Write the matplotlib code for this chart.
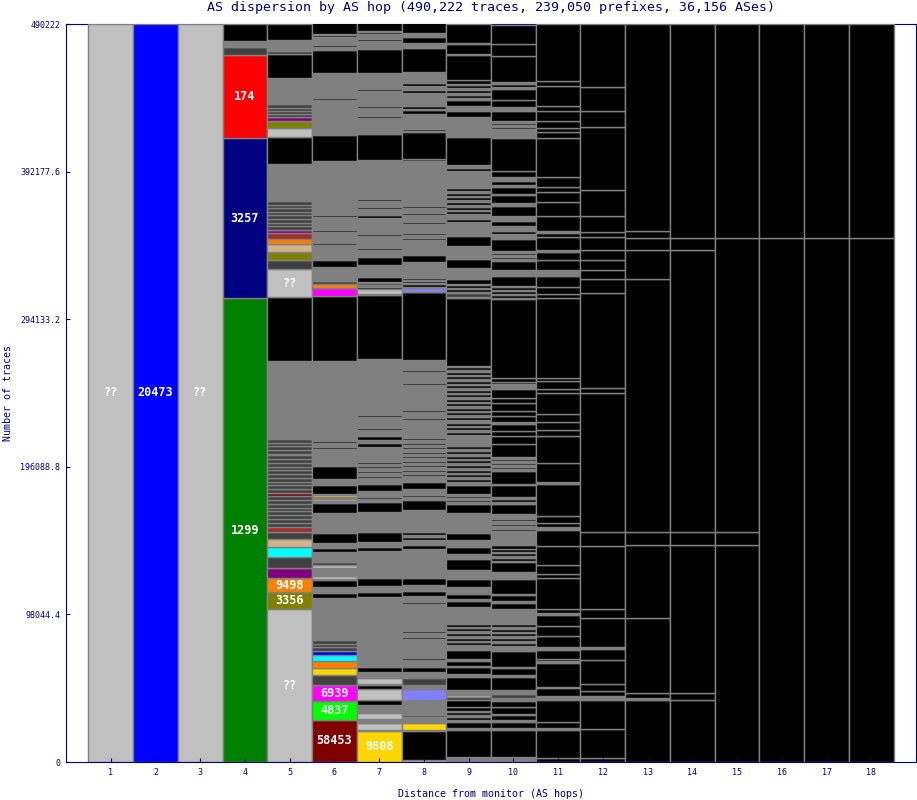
"""
AS dispersion by AS hop - stacked segment chart
"""

import matplotlib
matplotlib.use('Agg')
import matplotlib.pyplot as plt
import numpy as np

TOTAL_TRACES = 490222
title = 'AS dispersion by AS hop (490,222 traces, 239,050 prefixes, 36,156 ASes)'
x_label = 'Distance from monitor (AS hops)'
y_label = 'Number of traces'
NAVY = '#000080'

# colour codes used in the segment lists
palette = {
    'K': '#000000', 'G': '#808080', 'D': '#404040', 'S': '#c0c0c0',
    'BL': '#0000ff', 'NV': '#000080', 'GR': '#008000', 'RD': '#ff0000',
    'OL': '#808000', 'OR': '#ff8000', 'PU': '#800080', 'CY': '#00ffff',
    'TA': '#d2b48c', 'BR': '#a52a2a', 'DR': '#800000', 'MA': '#ff00ff',
    'LI': '#00ff00', 'GO': '#ffd700', 'LV': '#8080ff',
}

# segments per hop, bottom to top: (thousands of traces, colour, [AS label])
hop1 = [(490.3, 'S', '??')]
hop2 = [(490.3, 'BL', '20473')]
hop3 = [(490.3, 'S', '??')]
hop4 = [(308.1, 'GR', '1299'), (106.2, 'NV', '3257'), (55.1, 'RD', '174'),
        (5.3, 'D'), (4.0, 'G'), (11.6, 'K')]
hop5 = [(101.6, 'S', '??'), (11.3, 'OL', '3356'), (9.0, 'OR', '9498'), (7.0, 'PU'),
        (7.3, 'D'), (6.6, 'CY'), (5.3, 'TA'), (4.6, 'D'), (3.7, 'BR'),
        (2.5, 'D'), (2.5, 'D'), (2.5, 'D'), (2.5, 'D'), (2.5, 'D'), (2.5, 'D'), (2.5, 'D'), (2.5, 'D'),
        (2.3, 'DR'),
        (2.5, 'D'), (2.5, 'D'), (2.5, 'D'), (2.5, 'D'), (2.5, 'D'),
        (2.5, 'D'), (2.5, 'D'), (2.5, 'D'), (2.5, 'D'), (2.5, 'D'),
        (1.0, 'MA'), (2.5, 'D'), (2.5, 'D'), (2.5, 'D'), (2.5, 'D'),
        (51.5, 'G'), (42.5, 'K'),
        (18.9, 'S', '??'), (5.6, 'D'), (5.3, 'OL'), (5.3, 'TA'), (3.7, 'OR'), (4.0, 'BR'), (2.0, 'PU'),
        (2.4, 'D'), (2.4, 'D'), (2.4, 'D'), (2.4, 'D'), (2.4, 'D'), (2.4, 'D'), (2.4, 'D'), (2.4, 'D'),
        (24.6, 'G'), (17.6, 'K'),
        (6.0, 'S'), (5.0, 'OL'), (2.3, 'PU'), (2.15, 'D'), (2.15, 'D'), (2.15, 'D'), (2.15, 'D'),
        (17.6, 'G'), (15.6, 'K'),
        (2.0, 'D'), (7.3, 'G'), (10.8, 'K')]
hop6 = [(27.9, 'DR', '58453'), (12.6, 'LI', '4837'), (10.6, 'MA', '6939'), (6.6, 'D'),
        (5.0, 'GO'), (4.3, 'OR'), (4.0, 'CY'), (3.0, 'BL'),
        (2.3, 'D'), (2.3, 'D'), (2.4, 'D'),
        (28.1, 'G'), (3.3, 'K'), (4.0, 'G'), (4.4, 'K'), (0.7, 'G'), (2.0, 'S'), (5.3, 'G'),
        (2.3, 'S'), (1.7, 'D'), (6.8, 'G'), (2.7, 'K'), (2.9, 'G'), (6.6, 'K'), (13.3, 'G'),
        (7.0, 'K'), (1.5, 'G'), (0.8, 'S'), (1.9, 'G'), (0.8, 'GO'), (0.7, 'G'), (6.0, 'K'),
        (4.0, 'G'), (8.8, 'K'), (4.4, 'G'), (3.7, 'G'), (0.8, 'S'),
        (2.7, 'G'), (1.0, 'K'), (2.7, 'G'), (1.0, 'K'), (2.3, 'G'),
        (50.9, 'G'), (43.2, 'K'),
        (5.3, 'MA'), (0.5, 'G'), (2.3, 'OR'), (2.0, 'D'), (9.3, 'G'), (5.0, 'K'), (4.9, 'G'),
        (1.0, 'K'), (4.0, 'G'), (1.0, 'K'), (3.3, 'G'), (1.0, 'K'), (3.3, 'G'), (1.0, 'K'),
        (5.5, 'G'), (0.8, 'S'), (2.7, 'G'), (1.0, 'K'), (3.3, 'G'), (1.0, 'K'),
        (31.5, 'G'), (17.7, 'K'),
        (10.9, 'G'), (1.0, 'K'), (3.1, 'G'), (1.0, 'K'), (1.7, 'G'), (1.0, 'K'), (4.4, 'G'),
        (1.0, 'K'), (16.9, 'G'), (15.5, 'K'),
        (2.0, 'G'), (1.0, 'K'), (3.3, 'G'), (1.0, 'K'), (1.3, 'G'), (1.0, 'K'), (1.0, 'G'), (11.0, 'K')]
hop7 = [(20.6, 'GO', '9808'), (0.7, 'G'), (4.4, 'S'), (2.9, 'G'), (3.8, 'S'), (5.5, 'G'),
        (3.3, 'K'), (7.5, 'S'), (2.5, 'K'), (0.7, 'G'), (4.2, 'S'), (3.6, 'G'), (3.7, 'K'),
        (2.7, 'G'), (1.3, 'K'), (2.7, 'G'), (1.3, 'K'), (3.1, 'G'),
        (12.2, 'G'), (1.0, 'K'), (22.2, 'G'), (3.1, 'K'), (4.0, 'G'), (4.9, 'K'),
        (8.2, 'G'), (0.8, 'D'), (9.5, 'G'), (2.7, 'K'), (2.9, 'G'), (6.6, 'K'), (13.3, 'G'),
        (7.0, 'K'), (2.0, 'G'), (1.0, 'K'), (1.3, 'G'), (1.0, 'K'), (1.6, 'G'),
        (4.8, 'K'), (4.0, 'G'),
        (1.3, 'K'), (2.0, 'G'), (1.3, 'K'), (2.0, 'G'), (1.3, 'K'), (1.3, 'G'), (1.3, 'K'), (2.7, 'G'),
        (4.0, 'G'), (1.0, 'K'), (2.7, 'G'), (2.7, 'K'), (1.5, 'G'), (2.9, 'K'), (4.2, 'G'),
        (1.0, 'K'), (7.5, 'G'), (1.0, 'K'), (37.2, 'G'), (42.8, 'K'),
        (0.4, 'G'), (3.3, 'S'), (1.8, 'K'), (1.1, 'G'), (1.1, 'D'), (1.1, 'G'), (2.9, 'K'),
        (8.3, 'G'), (5.0, 'K'), (4.9, 'G'),
        (1.0, 'K'), (4.0, 'G'), (1.0, 'K'), (3.3, 'G'), (1.0, 'K'), (3.3, 'G'), (1.0, 'K'),
        (6.6, 'G'), (2.0, 'K'), (3.7, 'G'), (1.7, 'K'), (3.7, 'G'), (1.5, 'K'), (0.5, 'G'),
        (25.2, 'G'), (17.7, 'K'),
        (10.7, 'G'), (1.0, 'K'), (3.3, 'G'), (1.0, 'K'), (1.3, 'G'), (1.1, 'K'), (5.6, 'G'),
        (1.1, 'K'), (3.3, 'G'), (1.0, 'K'), (11.1, 'G'), (15.5, 'K'),
        (2.0, 'G'), (1.0, 'K'), (2.7, 'G'), (1.0, 'K'), (1.3, 'G'), (1.0, 'K'), (1.3, 'G'),
        (1.0, 'K'), (0.7, 'G'), (10.4, 'K')]
hop8 = [(1.3, 'S'), (19.1, 'K'), (0.7, 'G'), (4.6, 'GO'), (2.2, 'G'),
        (2.0, 'G'), (1.0, 'D'), (2.7, 'G'), (1.0, 'D'), (1.3, 'G'), (5.3, 'G'),
        (7.3, 'LV'), (2.9, 'G'), (4.6, 'D'), (3.6, 'G'), (3.3, 'K'),
        (2.0, 'G'), (1.0, 'K'), (2.0, 'G'), (1.0, 'K'), (2.0, 'G'), (1.0, 'K'), (2.5, 'G'),
        (4.6, 'G'), (1.0, 'K'), (2.0, 'G'), (1.0, 'K'), (2.7, 'G'), (1.0, 'K'), (18.3, 'G'),
        (1.0, 'K'), (4.4, 'G'), (3.1, 'K'), (4.0, 'G'), (4.9, 'K'),
        (1.5, 'G'), (1.0, 'K'), (5.8, 'G'), (1.0, 'K'), (1.5, 'G'), (1.0, 'K'), (7.5, 'G'),
        (2.7, 'K'), (2.9, 'G'), (2.0, 'K'), (1.3, 'G'), (2.0, 'K'), (1.3, 'G'),
        (13.3, 'G'), (7.0, 'K'), (2.0, 'G'), (1.0, 'K'), (1.3, 'G'), (1.0, 'K'), (1.6, 'G'),
        (4.8, 'K'), (4.0, 'G'),
        (1.1, 'K'), (1.9, 'G'), (1.1, 'K'), (1.9, 'G'), (1.1, 'K'), (1.9, 'G'), (1.1, 'K'),
        (1.9, 'G'), (1.1, 'K'), (1.9, 'G'), (1.1, 'K'), (1.9, 'G'), (1.1, 'K'), (1.9, 'G'),
        (1.1, 'K'), (1.9, 'G'), (1.1, 'K'), (1.9, 'G'),
        (10.4, 'G'), (1.0, 'K'), (4.2, 'G'), (1.0, 'K'), (0.7, 'G'), (1.0, 'K'), (0.5, 'G'),
        (14.8, 'G'), (1.0, 'K'), (7.8, 'G'), (1.0, 'K'), (6.6, 'G'), (45.2, 'K'),
        (0.4, 'G'), (2.5, 'LV'), (0.7, 'G'), (1.8, 'K'), (0.9, 'G'), (1.0, 'K'), (1.0, 'G'),
        (1.0, 'K'), (2.2, 'G'), (8.4, 'G'), (5.0, 'K'), (4.9, 'G'),
        (1.0, 'K'), (4.0, 'G'), (1.0, 'K'), (2.4, 'G'), (1.0, 'K'), (1.3, 'G'), (1.0, 'K'),
        (1.6, 'G'), (1.0, 'K'), (1.5, 'G'), (1.3, 'K'), (4.2, 'G'), (1.8, 'K'), (2.9, 'G'),
        (1.6, 'K'), (1.7, 'G'), (1.1, 'K'), (1.5, 'G'), (1.1, 'K'), (5.0, 'G'), (1.0, 'K'),
        (1.1, 'G'), (17.3, 'G'), (1.0, 'K'), (0.5, 'G'), (17.7, 'K'),
        (0.9, 'G'), (1.0, 'K'), (8.4, 'G'), (1.0, 'K'), (0.9, 'G'), (2.2, 'K'), (1.1, 'G'),
        (1.5, 'K'), (3.3, 'G'), (1.0, 'K'), (1.8, 'G'), (1.0, 'K'), (1.7, 'G'), (2.2, 'K'),
        (2.7, 'G'), (1.8, 'K'), (2.0, 'G'), (1.0, 'K'), (4.6, 'G'), (15.5, 'K'),
        (3.8, 'G'), (3.8, 'K'), (2.4, 'G'), (11.1, 'K')]
hop9 = [(3.3, 'G'), (17.7, 'K'), (1.3, 'G'), (4.2, 'K'), (1.6, 'G'),
        (2.0, 'K'), (1.0, 'G'), (2.0, 'K'), (1.0, 'G'), (2.4, 'K'),
        (4.4, 'K'), (2.2, 'D'), (1.1, 'S'), (3.3, 'G'), (8.8, 'K'), (2.3, 'G'), (4.4, 'K'),
        (1.0, 'G'), (3.3, 'K'), (1.0, 'G'), (5.8, 'K'), (3.3, 'G'),
        (2.0, 'K'), (1.1, 'G'), (2.0, 'K'), (1.1, 'G'), (2.0, 'K'), (1.1, 'G'), (2.0, 'K'),
        (1.1, 'G'), (2.0, 'K'), (1.1, 'G'),
        (10.0, 'G'), (4.0, 'K'), (1.6, 'G'), (3.3, 'K'), (4.4, 'G'), (5.6, 'K'), (5.5, 'G'),
        (7.8, 'K'), (3.3, 'G'), (4.4, 'K'), (4.5, 'G'), (4.5, 'K'), (13.3, 'G'), (6.6, 'K'),
        (1.3, 'G'), (1.3, 'K'), (1.3, 'G'), (1.3, 'K'), (1.3, 'G'), (5.5, 'K'), (2.2, 'G'),
        (2.0, 'K'), (1.1, 'G'), (2.0, 'K'), (1.1, 'G'), (2.0, 'K'), (1.1, 'G'), (2.0, 'K'),
        (1.1, 'G'), (2.0, 'K'), (1.1, 'G'), (2.0, 'K'), (1.1, 'G'), (2.0, 'K'), (1.1, 'G'),
        (2.0, 'K'), (1.1, 'G'),
        (6.6, 'G'), (2.0, 'K'), (1.0, 'G'), (2.0, 'K'), (1.0, 'G'), (1.8, 'K'), (2.2, 'G'),
        (2.0, 'K'), (1.0, 'G'), (2.0, 'K'), (1.0, 'G'), (2.0, 'K'), (1.0, 'G'), (2.0, 'K'),
        (1.0, 'G'), (2.0, 'K'), (1.0, 'G'), (2.0, 'K'), (1.0, 'G'), (2.0, 'K'), (1.0, 'G'),
        (2.0, 'K'), (1.0, 'G'), (2.0, 'K'), (1.0, 'G'), (2.0, 'K'), (1.0, 'G'), (2.0, 'K'),
        (1.0, 'G'), (2.0, 'K'), (1.0, 'G'),
        (45.0, 'K'), (0.4, 'G'), (2.9, 'D'), (0.7, 'G'), (2.0, 'K'), (0.7, 'G'), (2.0, 'K'),
        (0.7, 'G'), (2.9, 'K'), (7.8, 'G'), (5.5, 'K'), (8.8, 'G'), (6.6, 'K'), (9.1, 'G'),
        (2.0, 'K'), (3.3, 'G'),
        (2.1, 'K'), (1.0, 'G'), (2.1, 'K'), (1.0, 'G'), (2.1, 'K'), (1.0, 'G'), (2.1, 'K'),
        (1.0, 'G'), (2.1, 'K'), (1.0, 'G'), (2.1, 'K'), (1.0, 'G'),
        (10.0, 'G'), (2.3, 'K'), (2.2, 'G'), (18.4, 'K'), (10.4, 'G'), (1.1, 'K'), (1.5, 'G'),
        (4.0, 'K'), (3.8, 'G'), (4.0, 'K'),
        (1.0, 'G'), (2.2, 'K'), (1.0, 'G'), (2.2, 'K'), (1.0, 'G'), (2.2, 'K'), (1.0, 'G'), (2.2, 'K'),
        (16.6, 'K'), (0.9, 'G'), (6.6, 'K'), (0.7, 'G'), (12.8, 'K')]
hop10 = [(3.3, 'G'), (17.7, 'K'), (1.3, 'G'), (4.2, 'K'), (1.3, 'G'), (3.1, 'K'), (1.3, 'G'),
         (4.2, 'K'), (4.4, 'K'), (2.0, 'G'), (2.7, 'D'), (2.0, 'G'), (8.8, 'K'), (1.3, 'G'),
         (4.6, 'K'), (1.0, 'G'), (10.8, 'K'), (3.3, 'G'),
         (2.0, 'K'), (1.1, 'G'), (2.0, 'K'), (1.1, 'G'), (2.0, 'K'), (1.1, 'G'), (2.0, 'K'),
         (1.1, 'G'), (2.0, 'K'), (1.1, 'G'),
         (8.9, 'G'), (4.0, 'K'), (1.0, 'G'), (4.0, 'K'), (1.0, 'G'), (10.0, 'K'), (4.4, 'G'),
         (6.6, 'K'), (1.0, 'G'), (2.0, 'K'), (1.0, 'G'), (2.0, 'K'), (1.0, 'G'), (1.9, 'K'),
         (2.3, 'K'), (7.8, 'G'), (2.0, 'G'), (1.3, 'K'), (2.0, 'G'), (1.3, 'K'), (2.0, 'G'),
         (1.3, 'K'), (3.3, 'G'), (6.6, 'K'), (1.0, 'G'), (2.2, 'K'), (1.0, 'G'), (8.1, 'K'),
         (1.0, 'G'), (8.8, 'K'), (1.3, 'G'), (1.3, 'K'), (1.3, 'G'), (1.3, 'K'), (1.3, 'G'),
         (0.9, 'K'), (1.3, 'G'),
         (8.9, 'K'), (5.5, 'K'), (3.3, 'K'), (4.5, 'K'), (1.1, 'G'), (4.5, 'K'), (3.3, 'K'),
         (4.8, 'K'), (3.3, 'K'), (6.2, 'K'), (3.3, 'G'), (1.5, 'K'), (2.5, 'K'), (52.5, 'K'),
         (0.7, 'G'), (2.0, 'K'), (0.7, 'G'), (2.2, 'K'), (0.7, 'G'), (2.0, 'K'), (0.7, 'G'),
         (6.6, 'K'), (4.0, 'G'), (6.0, 'K'), (1.3, 'G'), (1.3, 'K'), (1.3, 'G'), (1.3, 'K'),
         (1.3, 'G'), (7.8, 'K'), (3.3, 'G'), (2.2, 'K'), (3.3, 'G'), (3.3, 'K'), (3.3, 'G'),
         (6.6, 'K'), (2.2, 'G'), (5.3, 'K'), (0.7, 'G'), (4.5, 'K'), (1.3, 'G'), (2.7, 'K'),
         (2.2, 'G'), (4.0, 'K'), (22.2, 'K'),
         (4.2, 'G'), (2.0, 'G'), (1.3, 'K'), (1.3, 'G'), (1.3, 'K'), (1.3, 'G'), (6.6, 'K'),
         (2.7, 'G'), (4.5, 'K'), (7.3, 'K'), (1.1, 'G'), (2.3, 'K'), (1.1, 'G'), (17.7, 'K'),
         (7.8, 'K'), (12.8, 'K')]
hop11 = [(2.5, 'K'), (18.8, 'K'), (1.1, 'G'), (4.4, 'K'), (14.4, 'K'), (2.7, 'G'), (5.1, 'K'),
         (1.1, 'G'), (15.9, 'K'), (1.0, 'G'), (1.3, 'K'), (6.2, 'K'), (1.7, 'G'), (7.6, 'K'),
         (6.6, 'K'), (7.3, 'K'), (1.1, 'G'), (2.7, 'K'), (20.6, 'K'), (2.7, 'K'), (6.2, 'K'),
         (12.6, 'K'), (10.6, 'K'), (2.2, 'G'), (2.3, 'K'), (4.8, 'K'), (21.0, 'K'), (1.3, 'G'),
         (12.6, 'K'), (18.1, 'K'), (4.0, 'K'), (5.5, 'K'), (5.1, 'K'), (13.7, 'K'), (3.3, 'K'),
         (5.3, 'K'), (2.0, 'K'), (52.5, 'K'), (3.3, 'K'), (4.4, 'K'), (7.1, 'K'), (4.4, 'G'),
         (6.2, 'K'), (5.5, 'K'), (1.6, 'G'), (8.4, 'K'), (2.3, 'K'), (1.7, 'G'), (9.8, 'K'),
         (9.3, 'K'), (6.4, 'K'), (3.7, 'K'), (6.6, 'K'), (26.2, 'K'), (3.7, 'K'), (2.7, 'K'),
         (4.4, 'K'), (6.6, 'K'), (3.3, 'K'), (13.3, 'K'), (3.3, 'K'), (37.9, 'K')]
hop12 = [(2.5, 'K'), (19.3, 'K'), (19.5, 'K'), (2.7, 'G'), (2.9, 'K'), (4.9, 'K'), (16.1, 'K'),
         (7.1, 'K'), (1.7, 'G'), (18.9, 'K'), (6.0, 'K'), (42.2, 'K'), (8.9, 'K'), (92.3, 'K'),
         (3.3, 'K'), (63.1, 'K'), (9.3, 'K'), (6.2, 'K'), (6.6, 'K'), (6.6, 'K'), (8.4, 'K'),
         (3.7, 'K'), (10.2, 'K'), (17.3, 'K'), (41.8, 'K'), (10.8, 'K'), (16.1, 'K'), (41.6, 'K')]
hop13 = [(41.2, 'K'), (1.1, 'G'), (3.3, 'K'), (49.8, 'K'), (48.5, 'K'), (8.8, 'K'),
         (167.9, 'K'), (19.3, 'K'), (8.0, 'K'), (4.8, 'K'), (137.5, 'K')]
hop14 = [(41.2, 'K'), (4.5, 'K'), (98.3, 'K'), (8.8, 'K'), (187.1, 'K'), (8.0, 'K'), (142.3, 'K')]
hop15 = [(143.9, 'K'), (8.8, 'K'), (195.1, 'K'), (142.3, 'K')]
hop16 = [(347.9, 'K'), (142.3, 'K')]
hop17 = [(347.9, 'K'), (142.3, 'K')]
hop18 = [(347.9, 'K'), (142.3, 'K')]

hops = [hop1, hop2, hop3, hop4, hop5, hop6, hop7, hop8, hop9,
        hop10, hop11, hop12, hop13, hop14, hop15, hop16, hop17, hop18]
hop_numbers = list(range(1, len(hops) + 1))


def draw_chart():
    plt.rcParams['font.family'] = 'DejaVu Sans Mono'
    fig = plt.figure(figsize=(9.17, 8.0), dpi=100)
    ax = fig.add_axes([66 / 917, 38 / 800, 850 / 917, 738 / 800])

    for hop, segs in zip(hop_numbers, hops):
        vals = np.array([s[0] for s in segs]) * 1000
        bottoms = np.concatenate([[0], np.cumsum(vals)[:-1]])
        colors = [palette[s[1]] for s in segs]
        ax.bar([hop] * len(vals), vals, bottom=bottoms, width=1.0, color=colors,
               edgecolor='#808080', linewidth=1.0)
        for s, b, v in zip(segs, bottoms, vals):
            if len(s) > 2:
                ax.text(hop, b + v / 2, s[2], color='white', fontweight='bold',
                        fontsize=8.5, ha='center', va='center')

    ax.set_xlim(0, 19)
    ax.set_ylim(0, TOTAL_TRACES)
    yticks = np.linspace(0, TOTAL_TRACES, 6)
    ax.set_yticks(yticks)
    ax.set_yticklabels([f'{v:.1f}'.rstrip('0').rstrip('.') for v in yticks])
    ax.set_xticks(hop_numbers)
    ax.set_xticklabels([str(h) for h in hop_numbers])
    ax.tick_params(colors=NAVY, labelsize=6, direction='in', length=3, pad=4)

    for side in ['left', 'right', 'bottom', 'top']:
        ax.spines[side].set_color(NAVY)
    ax.spines['top'].set_zorder(0.5)

    center_x = (66 + 916) / 2 / 917
    fig.text(center_x, 1 - 8 / 800, title, color=NAVY, fontsize=9.5, ha='center', va='center')
    fig.text(center_x, 1 - 794 / 800, x_label, color=NAVY, fontsize=7.2,
             ha='center', va='center')
    fig.text(8 / 917, 1 - 393 / 800, y_label, color=NAVY, fontsize=7.2, rotation=90,
             ha='center', va='center')

    fig.savefig('out.png', dpi=100)


if __name__ == '__main__':
    draw_chart()
